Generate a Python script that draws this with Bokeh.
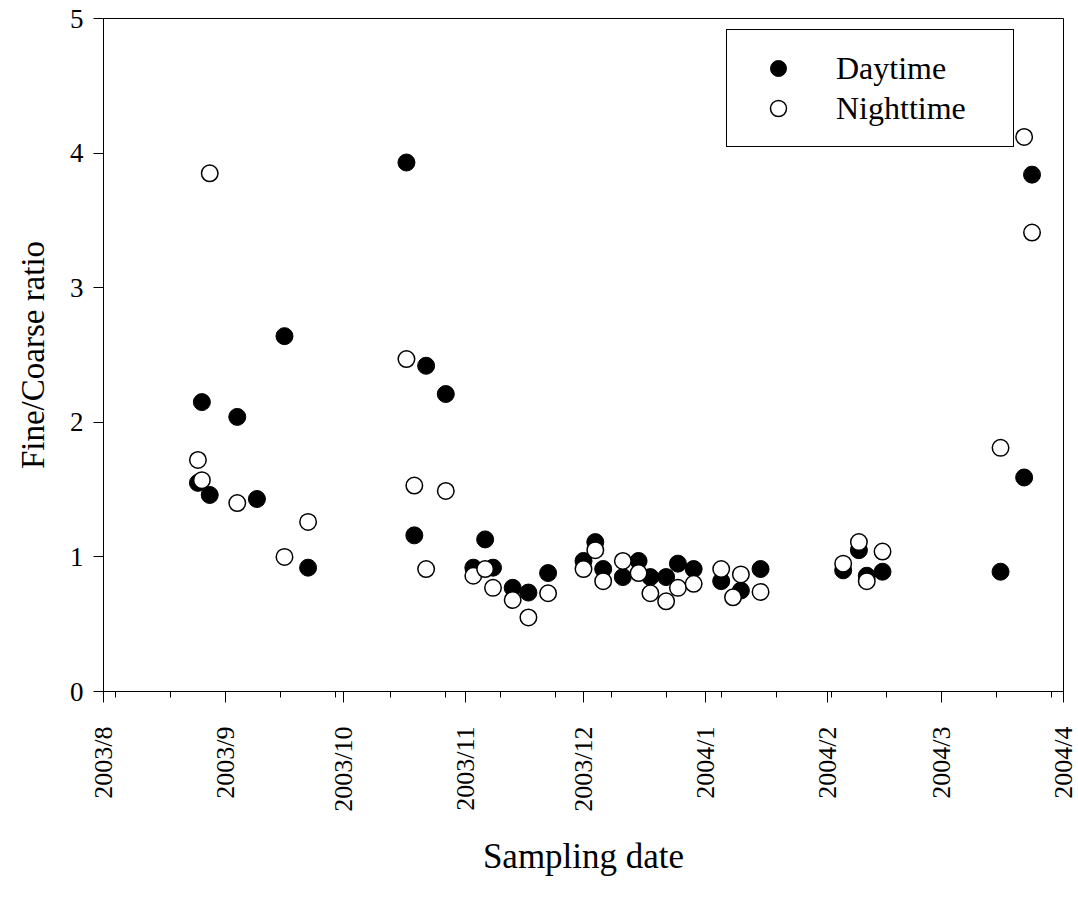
import math
import pandas as pd
from bokeh.plotting import figure
from bokeh.models import FixedTicker, Range1d, Legend, LegendItem
from bokeh.embed import file_html
from bokeh.resources import INLINE

# ---- data ----
day_dates = ["2003-08-25", "2003-08-26", "2003-08-28", "2003-09-04", "2003-09-09",
             "2003-09-16", "2003-09-22", "2003-10-17", "2003-10-19", "2003-10-22",
             "2003-10-27", "2003-11-03", "2003-11-06", "2003-11-08", "2003-11-13",
             "2003-11-17", "2003-11-22", "2003-12-01", "2003-12-04", "2003-12-06",
             "2003-12-11", "2003-12-15", "2003-12-18", "2003-12-22", "2003-12-25",
             "2003-12-29", "2004-01-05", "2004-01-10", "2004-01-15", "2004-02-05",
             "2004-02-09", "2004-02-11", "2004-02-15", "2004-03-16", "2004-03-22",
             "2004-03-24"]
day_ratio = [1.55, 2.15, 1.46, 2.04, 1.43,
             2.64, 0.92, 3.93, 1.16, 2.42,
             2.21, 0.92, 1.13, 0.92, 0.77,
             0.735, 0.88, 0.97, 1.11, 0.91,
             0.85, 0.97, 0.85, 0.85, 0.95,
             0.91, 0.82, 0.75, 0.91, 0.90,
             1.05, 0.86, 0.89, 0.89, 1.59,
             3.84]

night_dates = ["2003-08-25", "2003-08-26", "2003-08-28", "2003-09-04", "2003-09-16",
               "2003-09-22", "2003-10-17", "2003-10-19", "2003-10-22", "2003-10-27",
               "2003-11-03", "2003-11-06", "2003-11-08", "2003-11-13", "2003-11-17",
               "2003-11-22", "2003-12-01", "2003-12-04", "2003-12-06", "2003-12-11",
               "2003-12-15", "2003-12-18", "2003-12-22", "2003-12-25", "2003-12-29",
               "2004-01-05", "2004-01-08", "2004-01-10", "2004-01-15", "2004-02-05",
               "2004-02-09", "2004-02-11", "2004-02-15", "2004-03-16", "2004-03-22",
               "2004-03-24"]
night_ratio = [1.72, 1.57, 3.85, 1.40, 1.00,
               1.26, 2.47, 1.53, 0.91, 1.49,
               0.86, 0.91, 0.77, 0.68, 0.55,
               0.73, 0.91, 1.05, 0.82, 0.97,
               0.88, 0.73, 0.67, 0.77, 0.80,
               0.91, 0.70, 0.87, 0.74, 0.95,
               1.11, 0.82, 1.04, 1.81, 4.12,
               3.41]

month_labels = ["2003/8", "2003/9", "2003/10", "2003/11", "2003/12",
                "2004/1", "2004/2", "2004/3", "2004/4"]
month_starts = ["2003-08-01", "2003-09-01", "2003-10-01", "2003-11-01", "2003-12-01",
                "2004-01-01", "2004-02-01", "2004-03-01", "2004-04-01"]
y_ticks = [0, 1, 2, 3, 4, 5]

origin = pd.Timestamp("2003-08-01")

def to_days(ds):
    return [int((pd.Timestamp(d) - origin).days) for d in ds]

day_x = to_days(day_dates)
night_x = to_days(night_dates)
major = to_days(month_starts)
minor = list(range(3, major[-1], 14))

FONT = "Liberation Serif"

p = figure(width=1078, height=900, output_backend="svg", toolbar_location=None,
           x_range=Range1d(major[0], major[-1]), y_range=Range1d(0, 5),
           min_border_left=103, min_border_right=15, min_border_top=18,
           min_border_bottom=209)
p.background_fill_color = "white"
p.border_fill_color = "white"
p.outline_line_color = "black"
p.outline_line_width = 1
p.outline_line_alpha = 1
p.grid.visible = False

r_day = p.scatter(day_x, day_ratio, size=17, marker="circle",
                  fill_color="black", line_color="black", line_width=1)
r_night = p.scatter(night_x, night_ratio, size=16.5, marker="circle",
                    fill_color="white", line_color="black", line_width=1.5)

xa = p.xaxis[0]
xa.ticker = FixedTicker(ticks=major, minor_ticks=minor)
xa.major_label_overrides = {m: lab for m, lab in zip(major, month_labels)}
xa.major_label_orientation = math.pi / 2
xa.major_tick_out = 11
xa.major_tick_in = 0
xa.minor_tick_out = 6
xa.minor_tick_in = 0
xa.major_label_standoff = 24
xa.major_label_text_font = FONT
xa.major_label_text_font_size = "26px"
xa.major_label_text_color = "black"
xa.axis_label = "Sampling date"
xa.axis_label_text_font = FONT
xa.axis_label_text_font_style = "normal"
xa.axis_label_text_font_size = "35px"
xa.axis_label_text_color = "black"
xa.axis_label_standoff = 22
xa.axis_line_color = "black"
xa.major_tick_line_color = "black"
xa.minor_tick_line_color = "black"

ya = p.yaxis[0]
ya.ticker = FixedTicker(ticks=y_ticks, minor_ticks=[])
ya.major_tick_out = 10
ya.major_tick_in = 0
ya.minor_tick_line_color = None
ya.major_label_standoff = 10
ya.major_label_text_font = FONT
ya.major_label_text_font_size = "27px"
ya.major_label_text_color = "black"
ya.axis_label = "Fine/Coarse ratio"
ya.axis_label_text_font = FONT
ya.axis_label_text_font_style = "normal"
ya.axis_label_text_font_size = "33px"
ya.axis_label_text_color = "black"
ya.axis_label_standoff = 16
ya.axis_line_color = "black"
ya.major_tick_line_color = "black"

legend = Legend(items=[LegendItem(label="Daytime", renderers=[r_day]),
                       LegendItem(label="Nighttime", renderers=[r_night])],
                location=(623, 544))
legend.glyph_width = 66
legend.glyph_height = 40
legend.spacing = 0
legend.padding = 18
legend.margin = 0
legend.label_standoff = 25
legend.label_width = 159
legend.label_height = 38
legend.label_text_font = FONT
legend.label_text_font_size = "32px"
legend.label_text_color = "black"
legend.border_line_color = "black"
legend.border_line_width = 1
legend.border_line_alpha = 1
legend.background_fill_color = "white"
legend.background_fill_alpha = 1
p.add_layout(legend)

open("out.html", "w").write(file_html(p, INLINE))
